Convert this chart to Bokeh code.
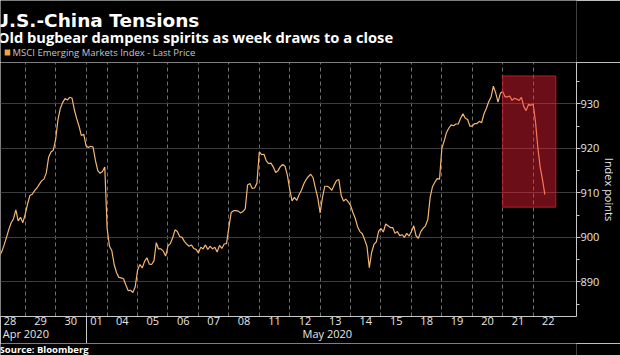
from bokeh.plotting import figure
from bokeh.models import Range1d, FixedTicker, LinearAxis, BoxAnnotation, ColumnDataSource
from bokeh.layouts import column
from bokeh.core.properties import value
from bokeh.embed import file_html
from bokeh.resources import INLINE

# ---------------- data ----------------
title_text = "U.S.-China Tensions"
subtitle_text = "Old bugbear dampens spirits as week draws to a close"
series_name = "MSCI Emerging Markets Index - Last Price"
source_text = "Source: Bloomberg"
y_axis_title = "Index points"

day_labels = ["28", "29", "30", "01", "04", "05", "06", "07", "08", "11",
              "12", "13", "14", "15", "18", "19", "20", "21", "22"]
month_labels = ["Apr 2020", "May 2020"]
y_ticks = [890, 900, 910, 920, 930]
y_minor_ticks = [885, 895, 905, 915, 925, 935]

SAMPLES_PER_DAY = 13  # intraday samples per full session

prices_apr28 = [895.0, 895.5, 895.8, 896.8, 898.3, 900.0, 901.8, 903.3, 904.2, 906.2, 903.7, 904.5, 903.3]
prices_apr29 = [905.2, 907.5, 909.4, 909.7, 910.5, 911.1, 911.9, 912.7, 913.1, 914.5, 918.0, 919.2, 919.6]
prices_apr30 = [922.0, 926.5, 929.0, 930.3, 931.2, 930.9, 931.5, 931.3, 928.7, 926.7, 925.0, 922.9, 923.2]
prices_may01 = [920.6, 920.2, 920.5, 920.3, 917.3, 915.0, 914.4, 914.8, 915.8]
prices_may04 = [902.0, 898.0, 897.0, 893.9, 892.1, 891.0, 890.9, 890.7, 889.3, 888.0, 888.1, 887.6, 888.9]
prices_may05 = [892.6, 893.9, 893.1, 894.6, 895.4, 894.0, 893.9, 894.7, 898.8, 897.4, 897.4, 896.9, 895.8]
prices_may06 = [898.1, 898.6, 899.9, 901.7, 901.3, 900.2, 900.0, 899.1, 898.5, 898.0, 898.3, 897.5, 897.3]
prices_may07 = [896.5, 897.8, 897.4, 898.3, 897.3, 898.0, 897.4, 897.8, 896.7, 898.2, 897.5, 898.5, 898.6]
prices_may08 = [902.2, 905.6, 906.0, 906.0, 905.9, 905.5, 905.8, 906.4, 911.8, 912.1, 911.0, 911.1, 912.2]
prices_may11 = [919.2, 918.6, 918.7, 917.2, 916.6, 916.7, 915.8, 914.6, 915.0, 915.9, 916.4, 916.0, 914.0]
prices_may12 = [910.8, 908.2, 909.0, 908.3, 909.6, 910.6, 912.0, 913.0, 913.7, 914.2, 913.4, 911.0, 908.9]
prices_may13 = [905.5, 909.0, 911.5, 911.5, 911.2, 910.6, 911.8, 912.8, 913.0, 909.4, 908.2, 908.6, 908.0]
prices_may14 = [907.2, 905.6, 904.3, 902.4, 901.3, 900.8, 899.5, 898.0, 893.2, 896.6, 898.4, 899.0, 901.4]
prices_may15 = [902.0, 901.2, 903.0, 902.6, 902.2, 902.2, 900.9, 901.3, 900.4, 900.6, 900.0, 900.9, 900.3]
prices_may18 = [901.3, 902.6, 900.3, 899.8, 901.3, 902.0, 902.6, 904.0, 909.0, 911.4, 912.4, 913.2, 913.1]
prices_may19 = [920.0, 921.7, 923.6, 924.6, 925.3, 925.1, 925.5, 925.5, 926.8, 927.8, 926.8, 926.5, 925.0]
prices_may20 = [925.0, 925.6, 925.6, 926.1, 925.8, 927.8, 929.0, 930.5, 931.5, 934.0, 932.5, 930.4, 932.4]
prices_may21 = [932.8, 931.6, 931.6, 931.8, 930.8, 931.3, 931.1, 930.8, 931.5, 929.4, 928.5, 929.9, 929.7]
prices_may22 = [930.0, 926.0, 920.2, 915.8, 913.0, 909.6]

daily_prices = [prices_apr28, prices_apr29, prices_apr30, prices_may01, prices_may04,
                prices_may05, prices_may06, prices_may07, prices_may08, prices_may11,
                prices_may12, prices_may13, prices_may14, prices_may15, prices_may18,
                prices_may19, prices_may20, prices_may21, prices_may22]

# ---------------- build x positions (trading-day units) ----------------
xs, ys, starts, centers = [], [], [], []
pos = 0.0
n_days = len(daily_prices)
for i, vals in enumerate(daily_prices):
    starts.append(pos)
    for j, v in enumerate(vals):
        xs.append(pos + j / SAMPLES_PER_DAY)
        ys.append(v)
    width = len(vals) / SAMPLES_PER_DAY if i < n_days - 1 else 1.0
    centers.append(round(pos + width / 2, 4))
    pos += len(vals) / SAMPLES_PER_DAY

month_boundary = round(starts[3], 4)   # first May session
boundaries = [round(s, 4) for s in starts[1:]]

# ---------------- styling ----------------
FONT = "Open Sans"
BG = "black"
LINE_COLOR = "#f3b673"
SWATCH_COLOR = "#f2a04a"
TXT = "#e6e6e6"
AXIS_COLOR = "#c8c8c8"
W = 620
TOTAL_H = 355
HEADER_H = 62
FOOTER_H = 12


def blank_panel(h):
    f = figure(width=W, height=h, output_backend="svg", toolbar_location=None,
               x_range=Range1d(0, W), y_range=Range1d(h, 0),
               x_axis_type=None, y_axis_type=None,
               background_fill_color=BG, border_fill_color=BG, outline_line_color=None,
               min_border_left=0, min_border_right=0, min_border_top=0, min_border_bottom=0)
    f.xgrid.visible = False
    f.ygrid.visible = False
    return f


# ---------------- header (title, subtitle, legend) ----------------
hdr = blank_panel(HEADER_H)
hdr.text(x=[-7], y=[20], text=[title_text], text_font=value("DejaVu Sans"),
         text_font_style="bold", text_font_size="18.5px", text_color="white",
         text_baseline="alphabetic")
hdr.text(x=[-3], y=[36.5], text=[subtitle_text], text_font=value(FONT),
         text_font_style="bold", text_font_size="14.7px", text_color="white",
         text_baseline="alphabetic")
hdr.rect(x=[7.5], y=[52], width=6, height=6, fill_color=SWATCH_COLOR, line_color=None)
hdr.text(x=[13], y=[52], text=[series_name], text_font=value(FONT),
         text_font_size="9.5px", text_color="#c4c4c4", text_baseline="middle")

# ---------------- footer (source) ----------------
ftr = blank_panel(FOOTER_H)
ftr.text(x=[-1], y=[6], text=[source_text], text_font=value(FONT),
         text_font_style="bold", text_font_size="9.5px", text_color="white",
         text_baseline="middle")

# ---------------- main chart ----------------
p = figure(width=W, height=TOTAL_H - HEADER_H - FOOTER_H, output_backend="svg",
           toolbar_location=None,
           x_range=Range1d(0.188, 19.117), y_range=Range1d(882.2, 939.33),
           y_axis_location="right",
           background_fill_color=BG, border_fill_color=BG, outline_line_color=None,
           min_border_left=0, min_border_right=0, min_border_top=0, min_border_bottom=0)

src = ColumnDataSource(dict(x=xs, y=ys))
p.line("x", "y", source=src, line_color=LINE_COLOR, line_width=1.2)

# highlight box over the final sessions
last_x = xs[-1]
hl_vals = prices_may21 + prices_may22
box = BoxAnnotation(left=starts[-2], right=last_x + 0.36,
                    bottom=min(hl_vals) - 2.8, top=max(hl_vals) + 3.5,
                    fill_color="#ff2236", fill_alpha=0.42,
                    line_color="#c0202c", line_width=1, line_alpha=0.9)
p.add_layout(box)

# grids
p.xgrid.ticker = FixedTicker(ticks=boundaries)
p.xgrid.grid_line_color = "#6e6e6e"
p.xgrid.grid_line_dash = "4 3"
p.xgrid.grid_line_width = 1
p.ygrid.ticker = FixedTicker(ticks=y_ticks)
p.ygrid.grid_line_color = "#3c3c3c"
p.ygrid.grid_line_width = 1

# y axis (right)
ya = p.yaxis[0]
ya.ticker = FixedTicker(ticks=y_ticks, minor_ticks=y_minor_ticks)
ya.axis_line_color = AXIS_COLOR
ya.major_tick_line_color = AXIS_COLOR
ya.minor_tick_line_color = AXIS_COLOR
ya.major_tick_out = 4
ya.major_tick_in = 0
ya.minor_tick_out = 3
ya.minor_tick_in = 0
ya.major_label_standoff = 0
ya.major_label_text_font = FONT
ya.major_label_text_font_size = "11px"
ya.major_label_text_color = TXT
ya.axis_label = y_axis_title
ya.axis_label_text_font = FONT
ya.axis_label_text_font_size = "11px"
ya.axis_label_text_font_style = "normal"
ya.axis_label_text_color = TXT
ya.axis_label_standoff = 0

# x axis: day labels; a long minor tick marks the month boundary
xa = p.xaxis[0]
xa.ticker = FixedTicker(ticks=centers, minor_ticks=[month_boundary])
xa.major_label_overrides = {c: lab for c, lab in zip(centers, day_labels)}
xa.axis_line_color = AXIS_COLOR
xa.major_tick_line_color = None
xa.minor_tick_line_color = AXIS_COLOR
xa.major_tick_out = 0
xa.major_tick_in = 0
xa.minor_tick_out = 27
xa.minor_tick_in = 0
xa.major_label_standoff = -27
xa.major_label_text_font = FONT
xa.major_label_text_font_size = "11px"
xa.major_label_text_color = TXT

# x axis: month labels
month_pos = [1.02, 10.93]
ma = LinearAxis(ticker=FixedTicker(ticks=month_pos),
                major_label_overrides={m: lab for m, lab in zip(month_pos, month_labels)})
ma.axis_line_color = None
ma.major_tick_line_color = None
ma.minor_tick_line_color = None
ma.major_tick_out = 0
ma.major_tick_in = 0
ma.minor_tick_out = 0
ma.minor_tick_in = 0
ma.major_label_standoff = -2
ma.major_label_text_font = FONT
ma.major_label_text_font_size = "11px"
ma.major_label_text_color = TXT
p.add_layout(ma, "below")

layout = column(hdr, p, ftr, spacing=0)
open("out.html", "w").write(file_html(layout, INLINE))
